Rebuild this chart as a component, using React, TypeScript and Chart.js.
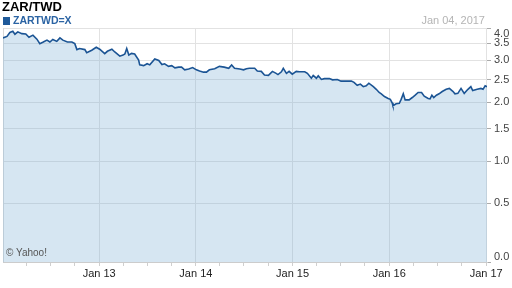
import React, { useEffect, useRef } from "react";
import { Chart, registerables } from "chart.js";

Chart.register(...registerables);

const TITLE = "ZAR/TWD";
const SYMBOL = "ZARTWD=X";
const AS_OF = "Jan 04, 2017";
const CREDIT = "© Yahoo!";

const dates = [
  "2012-01-04", "2012-01-19", "2012-01-30", "2012-02-10", "2012-02-18", "2012-02-29",
  "2012-03-15", "2012-03-30", "2012-04-11", "2012-04-26", "2012-05-11", "2012-05-22",
  "2012-06-04", "2012-06-18", "2012-06-29", "2012-07-10", "2012-07-25", "2012-08-06",
  "2012-08-17", "2012-09-03", "2012-09-20", "2012-10-01", "2012-10-09", "2012-10-19",
  "2012-11-08", "2012-11-15", "2012-12-04", "2012-12-21", "2013-01-03", "2013-01-22",
  "2013-02-01", "2013-02-18", "2013-03-01", "2013-03-20", "2013-04-01", "2013-04-08",
  "2013-04-15", "2013-04-23", "2013-05-03", "2013-05-15", "2013-05-30", "2013-06-03",
  "2013-06-18", "2013-07-01", "2013-07-11", "2013-07-30", "2013-08-14", "2013-08-26",
  "2013-09-05", "2013-09-20", "2013-10-02", "2013-10-14", "2013-10-28", "2013-11-08",
  "2013-11-20", "2013-12-05", "2013-12-20", "2014-01-03", "2014-01-15", "2014-01-30",
  "2014-02-10", "2014-02-21", "2014-03-13", "2014-03-31", "2014-04-18", "2014-05-05",
  "2014-05-16", "2014-05-27", "2014-06-16", "2014-06-30", "2014-07-11", "2014-07-22",
  "2014-08-11", "2014-08-21", "2014-09-05", "2014-09-17", "2014-10-02", "2014-10-17",
  "2014-10-31", "2014-11-07", "2014-11-20", "2014-11-27", "2014-12-09", "2014-12-19",
  "2014-12-31", "2015-01-15", "2015-01-27", "2015-02-16", "2015-02-26", "2015-03-13",
  "2015-03-20", "2015-04-01", "2015-04-08", "2015-04-20", "2015-05-01", "2015-05-20",
  "2015-06-01", "2015-06-19", "2015-07-03", "2015-07-23", "2015-08-11", "2015-08-21",
  "2015-09-02", "2015-09-14", "2015-09-25", "2015-10-06", "2015-10-16", "2015-11-02",
  "2015-11-13", "2015-11-24", "2015-12-02", "2015-12-14", "2015-12-28", "2016-01-05",
  "2016-01-12", "2016-01-15", "2016-01-27", "2016-02-08", "2016-02-15", "2016-02-23",
  "2016-03-01", "2016-03-16", "2016-03-28", "2016-04-08", "2016-04-19", "2016-05-02",
  "2016-05-12", "2016-05-27", "2016-06-03", "2016-06-10", "2016-06-17", "2016-06-27",
  "2016-07-07", "2016-07-19", "2016-08-03", "2016-08-15", "2016-08-29", "2016-09-05",
  "2016-09-16", "2016-09-28", "2016-10-10", "2016-10-24", "2016-11-04", "2016-11-11",
  "2016-11-28", "2016-12-12", "2016-12-20", "2016-12-28", "2017-01-04",
];

const rates = [
  3.67, 3.72, 3.85, 3.89, 3.79, 3.87,
  3.81, 3.80, 3.69, 3.76, 3.63, 3.49,
  3.54, 3.60, 3.54, 3.62, 3.56, 3.67,
  3.60, 3.54, 3.54, 3.49, 3.31, 3.34,
  3.31, 3.22, 3.29, 3.38, 3.32, 3.19,
  3.26, 3.32, 3.24, 3.12, 3.15, 3.18,
  3.34, 3.15, 3.20, 3.18, 3.01, 2.88,
  2.86, 2.91, 2.88, 3.04, 3.00, 2.89,
  2.91, 2.84, 2.86, 2.80, 2.82, 2.82,
  2.75, 2.77, 2.81, 2.75, 2.72, 2.69,
  2.69, 2.75, 2.78, 2.84, 2.82, 2.79,
  2.88, 2.79, 2.77, 2.75, 2.78, 2.79,
  2.79, 2.72, 2.71, 2.62, 2.61, 2.71,
  2.66, 2.63, 2.70, 2.79, 2.66, 2.71,
  2.64, 2.71, 2.70, 2.70, 2.66, 2.54,
  2.61, 2.54, 2.60, 2.51, 2.53, 2.53,
  2.50, 2.51, 2.47, 2.47, 2.47, 2.44,
  2.37, 2.40, 2.34, 2.36, 2.42, 2.34,
  2.28, 2.21, 2.18, 2.12, 2.08, 2.06,
  1.99, 1.93, 1.97, 1.98, 2.06, 2.18,
  2.05, 2.05, 2.10, 2.15, 2.21, 2.21,
  2.13, 2.08, 2.07, 2.15, 2.10, 2.15,
  2.18, 2.23, 2.28, 2.30, 2.23, 2.18,
  2.19, 2.30, 2.19, 2.28, 2.34, 2.25,
  2.28, 2.30, 2.28, 2.36, 2.34,
];

const yTickValues = [0, 0.5, 1, 1.5, 2, 2.5, 3, 3.5, 4];
const yTickLabels = ["0.0", "0.5", "1.0", "1.5", "2.0", "2.5", "3.0", "3.5", "4.0"];
const xMajorDates = ["2013-01-01", "2014-01-01", "2015-01-01", "2016-01-01", "2017-01-01"];
const xMajorLabels = ["Jan 13", "Jan 14", "Jan 15", "Jan 16", "Jan 17"];
const xMinorDates = [
  "2012-04-01", "2012-07-01", "2012-10-01",
  "2013-04-01", "2013-07-01", "2013-10-01",
  "2014-04-01", "2014-07-01", "2014-10-01",
  "2015-04-01", "2015-07-01", "2015-10-01",
  "2016-04-01", "2016-07-01", "2016-10-01",
];

const toT = (s: string) => Date.parse(s + "T00:00:00Z");
const tr = (v: number) => Math.log(1 + v);

const FONT = "'Liberation Sans', Arial, Helvetica, sans-serif";

export default function App() {
  const canvasRef = useRef<HTMLCanvasElement | null>(null);

  useEffect(() => {
    if (!canvasRef.current) return;
    Chart.defaults.font.family = FONT;

    const xTicks = [
      ...xMajorDates.map((d, i) => ({ value: toT(d), major: true, label: xMajorLabels[i] })),
      ...xMinorDates.map((d) => ({ value: toT(d), major: false, label: "" })),
    ].sort((a, b) => a.value - b.value);

    const framePlugin = {
      id: "frame",
      beforeDatasetsDraw(chart: any) {
        const { ctx, chartArea } = chart;
        ctx.save();
        ctx.strokeStyle = "#d8d8d8";
        ctx.lineWidth = 1;
        ctx.beginPath();
        ctx.moveTo(chartArea.left + 0.5, chartArea.top);
        ctx.lineTo(chartArea.left + 0.5, chartArea.bottom);
        ctx.stroke();
        ctx.restore();
      },
    };

    const chart = new Chart(canvasRef.current, {
      type: "line",
      data: {
        datasets: [
          {
            label: SYMBOL,
            data: dates.map((d, i) => ({ x: toT(d), y: tr(rates[i]) })),
            borderColor: "#1b5494",
            borderWidth: 1.6,
            backgroundColor: "rgba(130,180,215,0.33)",
            fill: "start",
            pointRadius: 0,
            tension: 0,
          },
        ],
      },
      options: {
        animation: false,
        responsive: true,
        maintainAspectRatio: false,
        layout: { padding: { left: 3, top: 28, right: 0, bottom: 0 } },
        plugins: {
          legend: { display: false },
          tooltip: { enabled: false },
        },
        scales: {
          x: {
            type: "linear",
            min: toT(dates[0]),
            max: toT(dates[dates.length - 1]),
            afterBuildTicks: (s: any) => {
              s.ticks = xTicks.map((t) => ({ value: t.value, major: t.major }));
            },
            afterFit: (s: any) => {
              s.height = 26;
            },
            ticks: {
              autoSkip: false,
              maxRotation: 0,
              padding: 1,
              color: "#222",
              font: { size: 11 },
              callback: (v: any) => {
                const t = xTicks.find((k) => k.value === v);
                return t ? t.label : "";
              },
            },
            grid: {
              color: (c: any) => (c.tick && c.tick.major ? "#e2e2e2" : "rgba(0,0,0,0)"),
              tickColor: "#cfcfcf",
              tickLength: 4,
            },
            border: { display: true, color: "#cccccc" },
          },
          y: {
            type: "linear",
            position: "right",
            min: 0,
            max: tr(4),
            afterBuildTicks: (s: any) => {
              s.ticks = yTickValues.map((v) => ({ value: tr(v) }));
            },
            afterFit: (s: any) => {
              s.width = 25;
            },
            ticks: {
              padding: 3,
              color: "#444",
              font: { size: 11, lineHeight: 1 },
              crossAlign: "near",
              callback: (_v: any, i: number) => {
                const lab = yTickLabels[i];
                if (i === yTickLabels.length - 1) return ["", lab];
                if (i === 0) return [lab, ""];
                return lab;
              },
            },
            grid: {
              color: "#e2e2e2",
              tickColor: "#aaaaaa",
              tickLength: 4,
            },
            border: { display: false },
          },
        },
      },
      plugins: [framePlugin],
    });

    return () => chart.destroy();
  }, []);

  return (
    <div
      style={{
        position: "fixed",
        left: 0,
        top: 0,
        width: 512,
        height: 288,
        background: "#fff",
        fontFamily: FONT,
      }}
    >
      <canvas ref={canvasRef} />
      <div
        style={{
          position: "absolute",
          left: 2,
          top: 0,
          fontSize: 13,
          fontWeight: "bold",
          color: "#000",
          lineHeight: "14px",
        }}
      >
        {TITLE}
      </div>
      <div
        style={{
          position: "absolute",
          left: 3,
          top: 15,
          display: "flex",
          alignItems: "center",
          lineHeight: "11px",
        }}
      >
        <span style={{ display: "inline-block", width: 7, height: 8, background: "#1f5a9a", marginRight: 3 }} />
        <span style={{ fontSize: 10.5, fontWeight: "bold", color: "#2a63a3" }}>{SYMBOL}</span>
      </div>
      <div
        style={{
          position: "absolute",
          right: 27,
          top: 14,
          fontSize: 11,
          color: "#b4b4b4",
          lineHeight: "13px",
        }}
      >
        {AS_OF}
      </div>
      <div
        style={{
          position: "absolute",
          left: 6,
          top: 247,
          fontSize: 10,
          color: "#555",
          lineHeight: "12px",
        }}
      >
        {CREDIT}
      </div>
    </div>
  );
}
